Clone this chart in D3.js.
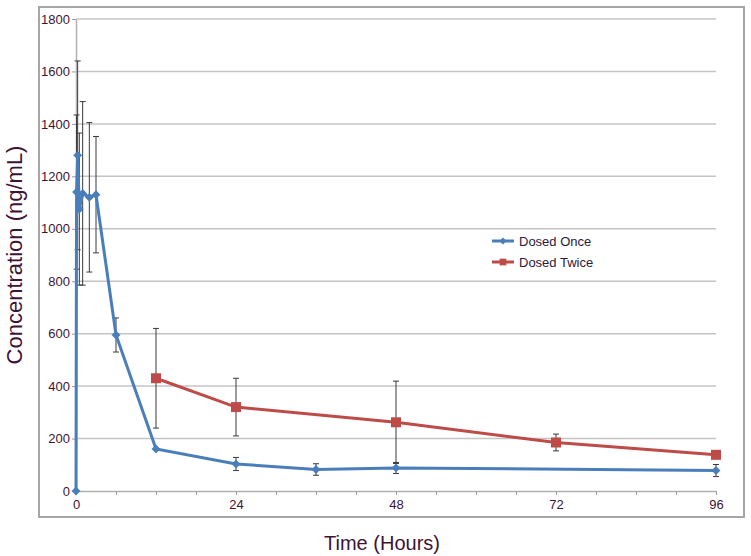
<!DOCTYPE html>
<html>
<head>
<meta charset="utf-8">
<script src="https://cdn.jsdelivr.net/npm/d3@7"></script>
<style>
  body { margin: 0; background: #fff; }
  text { font-family: "Liberation Sans", Arial, sans-serif; }
</style>
</head>
<body>
<div id="chart"></div>
<script>
// data
const onceTime = [0, 0.083, 0.25, 0.5, 1, 2, 3, 6, 12, 24, 36, 48, 96];
const onceMean = [0, 1140, 1280, 1075, 1135, 1120, 1130, 595, 160, 103, 82, 88, 78];
const onceSD   = [0, 294, 360, 290, 350, 285, 222, 65, 0, 25, 22, 21, 23];

const twiceTime = [12, 24, 48, 72, 96];
const twiceMean = [430, 320, 262, 185, 138];
const twiceSD   = [190, 110, 157, 32, 0];

const xTicks = [0, 24, 48, 72, 96];
const yTicks = [0, 200, 400, 600, 800, 1000, 1200, 1400, 1600, 1800];
const seriesNames = ["Dosed Once", "Dosed Twice"];

const width = 751, height = 556;
const margin = {top: 19, right: 35, bottom: 65, left: 76};

const blue = "#4a7ebb", red = "#be4b48";
const textCol = "#3d1436";

const svg = d3.select("#chart").append("svg")
    .attr("width", width)
    .attr("height", height);

// outer frame
svg.append("rect")
    .attr("x", 39).attr("y", 7)
    .attr("width", 705).attr("height", 510)
    .attr("fill", "none")
    .attr("stroke", "#a6a6a6")
    .attr("stroke-width", 2);

const xScale = d3.scaleLinear()
    .domain([0, 96])
    .range([margin.left, width - margin.right]);

const yScale = d3.scaleLinear()
    .domain([0, 1800])
    .range([height - margin.bottom, margin.top]);

// gridlines
svg.append("g")
    .selectAll("line")
    .data(yTicks.filter(d => d > 0))
    .join("line")
      .attr("x1", xScale(0))
      .attr("x2", xScale(96))
      .attr("y1", d => yScale(d))
      .attr("y2", d => yScale(d))
      .attr("stroke", "#c4c4c4")
      .attr("stroke-width", 1.5);

// y axis
const yAxis = d3.axisLeft(yScale)
    .tickValues(yTicks)
    .tickSize(4)
    .tickPadding(2)
    .tickSizeOuter(0)
    .tickFormat(d3.format("d"));

const yAxisGroup = svg.append("g")
    .attr("transform", `translate(${xScale(0)},0)`)
    .call(yAxis);
yAxisGroup.select(".domain").attr("stroke", "#b0b0b0").attr("stroke-width", 1.5);
yAxisGroup.selectAll(".tick line").attr("stroke", "#9a9a9a");
yAxisGroup.selectAll("text")
    .attr("fill", textCol)
    .style("font-size", "13px");

// x axis, minor ticks every 6 h
const xAxis = d3.axisBottom(xScale)
    .tickValues(d3.range(0, 97, 6))
    .tickSize(4)
    .tickSizeOuter(0)
    .tickPadding(5)
    .tickFormat(d => xTicks.includes(d) ? d : "");

const xAxisGroup = svg.append("g")
    .attr("transform", `translate(0,${yScale(0)})`)
    .call(xAxis);
xAxisGroup.select(".domain").attr("stroke", "#b0b0b0").attr("stroke-width", 1.5);
xAxisGroup.selectAll(".tick line").attr("stroke", "#9a9a9a");
xAxisGroup.selectAll("text")
    .attr("fill", textCol)
    .style("font-size", "13px");

// axis titles
svg.append("text")
    .attr("x", 382).attr("y", 550)
    .attr("text-anchor", "middle")
    .attr("fill", textCol)
    .style("font-size", "20px")
    .text("Time (Hours)");

svg.append("text")
    .attr("transform", "translate(22,255) rotate(-90)")
    .attr("text-anchor", "middle")
    .attr("fill", textCol)
    .style("font-size", "22px")
    .text("Concentration (ng/mL)");

const once = onceTime.map((t, i) => ({t: t, v: onceMean[i], sd: onceSD[i]}));
const twice = twiceTime.map((t, i) => ({t: t, v: twiceMean[i], sd: twiceSD[i]}));

// ERROR BARS
function errorBars(data) {
  const g = svg.append("g")
      .attr("stroke", "#3a3a3a")
      .attr("stroke-width", 1);
  const d0 = data.filter(d => d.sd > 0);
  g.selectAll("line.v").data(d0).join("line").attr("class", "v")
      .attr("x1", d => xScale(d.t)).attr("x2", d => xScale(d.t))
      .attr("y1", d => yScale(d.v - d.sd)).attr("y2", d => yScale(d.v + d.sd));
  g.selectAll("line.top").data(d0).join("line").attr("class", "top")
      .attr("x1", d => xScale(d.t) - 3).attr("x2", d => xScale(d.t) + 3)
      .attr("y1", d => yScale(d.v + d.sd)).attr("y2", d => yScale(d.v + d.sd));
  g.selectAll("line.bot").data(d0).join("line").attr("class", "bot")
      .attr("x1", d => xScale(d.t) - 3).attr("x2", d => xScale(d.t) + 3)
      .attr("y1", d => yScale(d.v - d.sd)).attr("y2", d => yScale(d.v - d.sd));
}
errorBars(twice);
errorBars(once);

const line = d3.line()
    .x(d => xScale(d.t))
    .y(d => yScale(d.v));

// LINES
svg.append("path")
    .datum(twice)
    .attr("fill", "none")
    .attr("stroke", red)
    .attr("stroke-width", 3)
    .attr("d", line);

svg.append("path")
    .datum(once)
    .attr("fill", "none")
    .attr("stroke", blue)
    .attr("stroke-width", 3)
    .attr("d", line);

// MARKERS
const diamond = d3.symbol().type(d3.symbolDiamond2).size(50);
const square = d3.symbol().type(d3.symbolSquare).size(100);

svg.append("g")
    .selectAll("path")
    .data(once)
    .join("path")
      .attr("transform", d => `translate(${xScale(d.t)},${yScale(d.v)})`)
      .attr("d", diamond)
      .attr("fill", blue);

svg.append("g")
    .selectAll("path")
    .data(twice)
    .join("path")
      .attr("transform", d => `translate(${xScale(d.t)},${yScale(d.v)})`)
      .attr("d", square)
      .attr("fill", red);

// LEGEND
const legend = svg.append("g")
    .attr("transform", "translate(492,241)");

const colors = [blue, red];
const marks = [d3.symbol().type(d3.symbolDiamond2).size(30), d3.symbol().type(d3.symbolSquare).size(45)];

seriesNames.forEach((name, i) => {
  const g = legend.append("g").attr("transform", `translate(0,${i * 21})`);
  g.append("line")
      .attr("x1", 0).attr("x2", 22)
      .attr("stroke", colors[i])
      .attr("stroke-width", 3);
  g.append("path")
      .attr("transform", "translate(11,0)")
      .attr("d", marks[i])
      .attr("fill", colors[i]);
  g.append("text")
      .attr("x", 27).attr("y", 5)
      .attr("fill", "#2b1a3a")
      .style("font-size", "13px")
      .text(name);
});
</script>
</body>
</html>
